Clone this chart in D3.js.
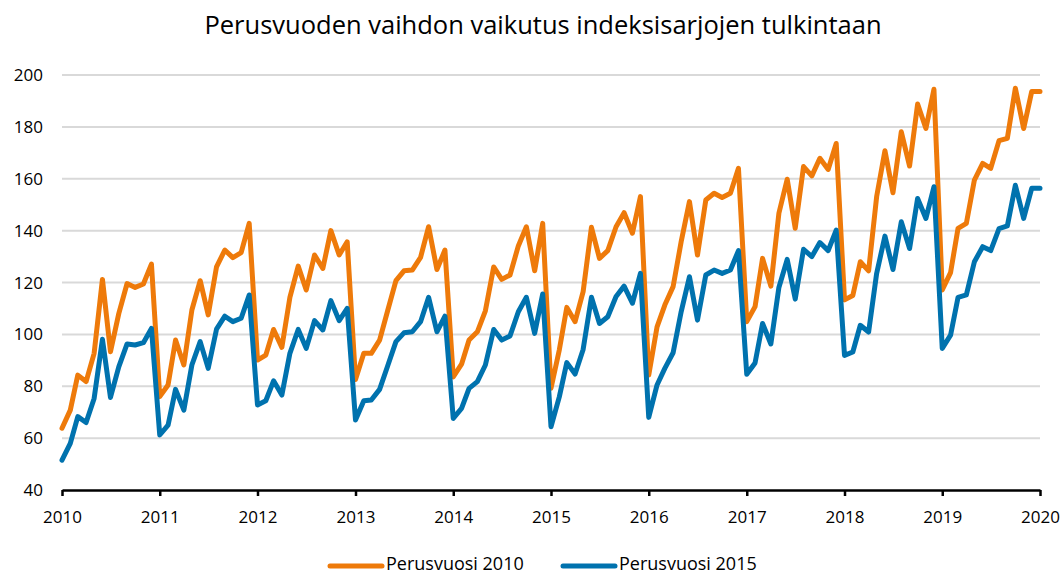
<!DOCTYPE html>
<html>
<head>
<meta charset="utf-8">
<script src="https://cdn.jsdelivr.net/npm/d3@7"></script>
<style>
  body { margin: 0; background: #fff; }
  svg { display: block; font-family: 'Open Sans', 'Noto Sans', sans-serif; }
</style>
</head>
<body>
<svg id="chart" width="1061" height="575"></svg>
<script>
// monthly index values, 2010-01 .. 2020-01
var startYear = 2010
var base2010 = [
  63.8, 70.8, 84.3, 81.8, 92.7, 121.2, 93.3, 108, 119.6, 118.1, 119.4, 127.1,
  76, 80.5, 97.8, 88.2, 109.4, 120.7, 107.5, 126, 132.5, 129.6, 131.5, 142.8,
  90.1, 92, 101.9, 95, 114.3, 126.3, 117.1, 130.6, 125.4, 140, 130.6, 135.7,
  82.6, 92.7, 92.7, 97.8, 109.1, 120.7, 124.5, 124.8, 129.7, 141.5, 125, 132.5,
  83.6, 88.5, 97.8, 101, 109.1, 126, 121.2, 122.9, 134.1, 141.5, 124.5, 142.8,
  79.2, 94, 110.4, 104.9, 116.5, 141.3, 129.3, 132.3, 141.5, 146.9, 139, 153.1,
  84.3, 102.9, 111.3, 118.4, 135.7, 151.2, 130.6, 151.8, 154.4, 152.8, 154.4, 164,
  104.9, 110.7, 129.3, 118.6, 146.7, 159.8, 140.9, 164.7, 161.1, 167.9, 163.6, 173.6,
  113.3, 115, 128, 124.5, 153.1, 170.8, 154.6, 178.1, 164.9, 188.8, 179.4, 194.5,
  117.1, 123.8, 140.9, 142.8, 159.5, 165.9, 164, 174.7, 175.6, 194.9, 179.4, 193.6,
  193.6
]
var base2015 = [
  51.5, 58, 68.3, 66, 75.3, 98.1, 75.7, 87.5, 96.3, 95.9, 96.8, 102.3,
  61.2, 65, 78.8, 70.8, 88.2, 97.2, 86.9, 102, 107, 104.9, 106.2, 115.2,
  72.8, 74.4, 82.1, 76.6, 92.7, 101.9, 94.6, 105.3, 101.7, 113, 105.3, 110,
  67, 74.4, 74.7, 78.8, 87.8, 97.2, 100.6, 101, 104.9, 114.3, 101, 107,
  67.6, 71.5, 79.2, 81.8, 88.2, 101.9, 97.8, 99.4, 108.7, 114.3, 100.4, 115.6,
  64.4, 75.9, 89.1, 84.7, 94.2, 114.3, 104.2, 106.8, 114.6, 118.6, 112, 123.5,
  68, 80.5, 86.9, 92.9, 108.7, 122.2, 105.5, 122.9, 124.8, 123.5, 124.8, 132.3,
  84.6, 89, 104.2, 96.3, 118.1, 128.9, 113.6, 132.8, 130, 135.4, 132.3, 140.2,
  91.9, 93.2, 103.5, 100.9, 123.5, 137.9, 125, 143.4, 133.1, 152.4, 144.7, 156.9,
  94.6, 99.7, 114.3, 115.2, 128, 133.8, 132.3, 140.8, 141.8, 157.5, 144.7, 156.3,
  156.3
]
var seriesNames = ['Perusvuosi 2010', 'Perusvuosi 2015']
var yTicks = [40, 60, 80, 100, 120, 140, 160, 180, 200]
var xTickYears = [2010, 2011, 2012, 2013, 2014, 2015, 2016, 2017, 2018, 2019, 2020]
var title = 'Perusvuoden vaihdon vaikutus indeksisarjojen tulkintaan'

;(function() {
  var colors = ['#ee7a0a', '#0072ae'],
    fontFamily = "'Open Sans', 'Noto Sans', sans-serif"

  var svg = d3.select('#chart'),
    plotLeft = 62,
    plotRight = 1040,
    plotTop = 75,
    plotBottom = 490

  var x = d3
    .scaleTime()
    .domain([new Date(startYear, 0, 1), new Date(2020, 0, 1)])
    .range([plotLeft, plotRight])
  var y = d3
    .scaleLinear()
    .domain([40, 200])
    .range([plotBottom, plotTop])

  // title
  svg
    .append('text')
    .attr('x', 543)
    .attr('y', 34)
    .attr('text-anchor', 'middle')
    .style('font-size', '25.5px')
    .style('fill', '#000')
    .text(title)

  // horizontal grid
  svg
    .append('g')
    .selectAll('line')
    .data(yTicks.slice(1))
    .enter()
    .append('line')
    .attr('x1', plotLeft)
    .attr('x2', plotRight)
    .attr('y1', y)
    .attr('y2', y)
    .style('stroke', '#d9d9d9')
    .style('stroke-width', 2)

  // y labels, no axis line
  svg
    .append('g')
    .selectAll('text')
    .data(yTicks)
    .enter()
    .append('text')
    .attr('x', 43)
    .attr('y', function(d) {
      return y(d) + 6
    })
    .attr('text-anchor', 'end')
    .style('font-size', '17px')
    .text(function(d) {
      return d
    })

  // x axis
  var xAxis = d3
    .axisBottom(x)
    .tickValues(
      xTickYears.map(function(yr) {
        return new Date(yr, 0, 1)
      })
    )
    .tickSize(6)
    .tickSizeOuter(0)
    .tickFormat(d3.timeFormat('%Y'))
  var gx = svg
    .append('g')
    .attr('transform', 'translate(0,' + plotBottom + ')')
    .call(xAxis)
  gx.select('.domain')
    .style('stroke', '#000')
    .style('stroke-width', 2.5)
  gx.selectAll('.tick line')
    .style('stroke', '#000')
    .style('stroke-width', 2.5)
  gx.selectAll('.tick text')
    .attr('y', 21)
    .style('font-size', '17px')
    .style('font-family', fontFamily)
    .style('fill', '#000')

  // series lines
  var line = d3
    .line()
    .x(function(d, i) {
      return x(new Date(startYear, i, 1))
    })
    .y(function(d) {
      return y(d)
    })

  ;[base2010, base2015].forEach(function(vals, k) {
    svg
      .append('path')
      .datum(vals)
      .attr('d', line)
      .style('fill', 'none')
      .style('stroke', colors[k])
      .style('stroke-width', 5)
      .style('stroke-linejoin', 'round')
      .style('stroke-linecap', 'round')
  })

  // legend
  var legendX = [330, 563]
  var legend = svg
    .append('g')
    .selectAll('g')
    .data(seriesNames)
    .enter()
    .append('g')
    .attr('transform', function(d, i) {
      return 'translate(' + legendX[i] + ',566)'
    })
  legend
    .append('line')
    .attr('x1', 0)
    .attr('x2', 52)
    .style('stroke', function(d, i) {
      return colors[i]
    })
    .style('stroke-width', 5)
    .style('stroke-linecap', 'round')
  legend
    .append('text')
    .attr('x', 56)
    .attr('y', 4)
    .style('font-size', '18px')
    .text(function(d) {
      return d
    })
})()
</script>
</body>
</html>
